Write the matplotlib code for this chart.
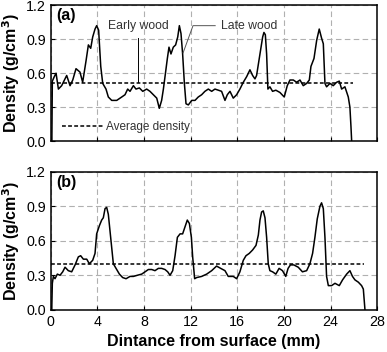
import matplotlib
matplotlib.use('Agg')
import matplotlib.pyplot as plt

plt.rcParams['font.family'] = ['Liberation Sans', 'DejaVu Sans']

# (a) density profile
xa = [0.0, 0.1, 0.14, 0.31, 0.46, 0.66, 0.94, 1.37, 1.66, 1.89, 2.17, 2.51, 2.74, 3.03, 3.23,
      3.43, 3.6, 3.8, 3.94, 4.11, 4.29, 4.46, 4.74, 4.94, 5.23, 5.66, 6.09, 6.37, 6.6, 6.8,
      7.09, 7.31, 7.6, 7.89, 8.23, 8.51, 8.8, 9.09, 9.31, 9.51, 9.66, 9.8, 10.0, 10.14, 10.31,
      10.51, 10.71, 10.89, 11.03, 11.17, 11.31, 11.46, 11.6, 11.8, 12.09, 12.37, 12.65, 12.94,
      13.22, 13.51, 13.8, 14.08, 14.37, 14.65, 14.94, 15.14, 15.37, 15.65, 15.94, 16.22, 16.51,
      16.8, 17.08, 17.31, 17.51, 17.65, 17.94, 18.17, 18.28, 18.4, 18.51, 18.62, 18.79, 19.02,
      19.3, 19.65, 20.02, 20.28, 20.51, 20.8, 21.08, 21.37, 21.65, 21.94, 22.17, 22.31, 22.57,
      22.8, 23.02, 23.22, 23.37, 23.51, 23.65, 23.94, 24.22, 24.51, 24.74, 24.94, 25.22, 25.51,
      25.65, 25.74, 25.8]
ya = [0.0, 0.0, 0.53, 0.57, 0.6, 0.46, 0.49, 0.58, 0.49, 0.54, 0.64, 0.61, 0.52, 0.71, 0.85,
      0.82, 0.92, 0.99, 1.02, 0.98, 0.66, 0.51, 0.46, 0.39, 0.36, 0.36, 0.39, 0.41, 0.46, 0.44,
      0.49, 0.46, 0.47, 0.44, 0.46, 0.44, 0.41, 0.38, 0.29, 0.36, 0.46, 0.57, 0.73, 0.83, 0.77,
      0.83, 0.85, 0.92, 1.02, 0.95, 0.77, 0.51, 0.33, 0.32, 0.36, 0.36, 0.39, 0.41,
      0.44, 0.46, 0.44, 0.46, 0.45, 0.44, 0.36, 0.41, 0.44, 0.38, 0.41, 0.46, 0.52,
      0.57, 0.63, 0.58, 0.55, 0.58, 0.77, 0.92, 0.96, 0.94, 0.77, 0.46, 0.48, 0.44,
      0.45, 0.43, 0.39, 0.49, 0.54, 0.54, 0.52, 0.54, 0.49, 0.51, 0.54, 0.66, 0.73,
      0.89, 0.99, 0.91, 0.86, 0.51, 0.48, 0.51, 0.49, 0.52, 0.53, 0.46, 0.48, 0.39,
      0.30, 0.13, 0.0]
avg_a = 0.515
avg_a_range = [0, 25.9]

# (b) density profile
xb = [0.0, 0.09, 0.14, 0.23, 0.37, 0.57, 0.8, 1.03, 1.23, 1.51, 1.8, 2.09, 2.37, 2.57, 2.8,
      3.09, 3.31, 3.6, 3.8, 3.94, 4.17, 4.37, 4.51, 4.66, 4.8, 4.94, 5.14, 5.37, 5.6, 5.89,
      6.17, 6.46, 6.8, 7.09, 7.43, 7.8, 8.09, 8.37, 8.66, 8.94, 9.23, 9.51, 9.8, 10.03, 10.23,
      10.46, 10.66, 10.86, 11.09, 11.31, 11.51, 11.71, 11.89, 12.06, 12.17, 12.34, 12.51,
      12.94, 13.37, 13.8, 14.22, 14.57, 14.94, 15.22, 15.65, 15.94, 16.22, 16.51, 16.74,
      17.02, 17.31, 17.6, 17.8, 17.94, 18.08, 18.22, 18.37, 18.51, 18.65, 18.79, 19.02, 19.3,
      19.58, 19.87, 20.15, 20.35, 20.55, 20.84, 21.22, 21.58, 21.94, 22.22, 22.45, 22.65,
      22.85, 23.08, 23.22, 23.37, 23.51, 23.65, 23.8, 24.08, 24.37, 24.74, 25.02, 25.37,
      25.65, 25.87, 26.08, 26.37, 26.65, 26.8, 26.94]
yb = [0.0, 0.0, 0.23, 0.29, 0.27, 0.31, 0.30, 0.33, 0.37, 0.34, 0.33, 0.39, 0.46, 0.47, 0.44,
      0.44, 0.40, 0.43, 0.49, 0.66, 0.73, 0.78, 0.80, 0.88, 0.89, 0.83, 0.63, 0.40, 0.36, 0.31,
      0.28, 0.27, 0.29, 0.29, 0.30, 0.31, 0.33, 0.35, 0.35, 0.34, 0.36, 0.36, 0.35, 0.33, 0.30,
      0.34, 0.47, 0.63, 0.66, 0.66, 0.72, 0.78, 0.75, 0.63, 0.46, 0.27, 0.28,
      0.29, 0.31, 0.34, 0.38, 0.36, 0.34, 0.29, 0.29, 0.27, 0.33, 0.43, 0.47,
      0.49, 0.52, 0.56, 0.65, 0.78, 0.85, 0.86, 0.80, 0.63, 0.40, 0.34, 0.33, 0.31,
      0.36, 0.34, 0.29, 0.36, 0.39, 0.39, 0.37, 0.33, 0.34, 0.40, 0.49, 0.63,
      0.79, 0.90, 0.93, 0.88, 0.63, 0.29, 0.21, 0.21, 0.23, 0.21, 0.26, 0.31,
      0.34, 0.29, 0.26, 0.24, 0.21, 0.18, 0.0]
avg_b = 0.40
avg_b_range = [0, 26.9]

xticks = [0, 4, 8, 12, 16, 20, 24, 28]
yticks = [0.0, 0.3, 0.6, 0.9, 1.2]

fig = plt.figure(figsize=(3.87, 3.52), dpi=100)
ax1 = fig.add_axes([0.131, 0.599, 0.844, 0.386])
ax2 = fig.add_axes([0.131, 0.120, 0.844, 0.392])

for ax in (ax1, ax2):
    ax.set_xlim(0, 28)
    ax.set_ylim(0, 1.2)
    ax.set_xticks(xticks)
    ax.set_yticks(yticks)
    ax.yaxis.set_major_formatter(matplotlib.ticker.FormatStrFormatter('%.1f'))
    ax.grid(True, color='#b0b0b0', linestyle=(0, (5, 3)), linewidth=0.8)
    ax.set_axisbelow(True)
    ax.tick_params(direction='in', length=3, labelsize=10.3, color='black')
    for s in ax.spines.values():
        s.set_linewidth(1.1)
    ax.set_ylabel('Density (g/cm$^\\mathbf{3}$)', fontsize=11.5, fontweight='bold', labelpad=3)

ax1.tick_params(labelbottom=False)

ax1.plot(xa, ya, color='black', lw=1.1)
avg_line, = ax1.plot(avg_a_range, [avg_a, avg_a], color='black', lw=1.1,
                     linestyle=(0, (2.5, 1.5)))
ax1.text(0.5, 1.11, '(a)', fontsize=11.5, fontweight='bold', va='center')
leg = ax1.legend([avg_line], ['Average density'], loc='lower left', frameon=False,
                 fontsize=8.5, handlelength=3.5, handletextpad=0.2, borderaxespad=0.3,
                 bbox_to_anchor=(0.01, 0.0))
leg.get_texts()[0].set_color('#333333')

# annotations
ax1.text(7.5, 1.02, 'Early wood', fontsize=8.8, ha='center', va='center', color='#333333')
ax1.plot([7.5, 7.5], [0.91, 0.52], color='black', lw=0.7)
ax1.text(17.0, 1.02, 'Late wood', fontsize=8.8, ha='center', va='center', color='#333333')
ax1.plot([14.1, 12.2, 11.35], [1.02, 1.02, 0.78], color='#555555', lw=0.7)

ax2.plot(xb, yb, color='black', lw=1.1)
ax2.plot(avg_b_range, [avg_b, avg_b], color='black', lw=1.1, linestyle=(0, (2.5, 1.5)))
ax2.text(0.5, 1.11, '(b)', fontsize=11.5, fontweight='bold', va='center')
ax2.set_xlabel('Dintance from surface (mm)', fontsize=11.5, fontweight='bold', labelpad=4)

fig.savefig('out.png', dpi=100)
